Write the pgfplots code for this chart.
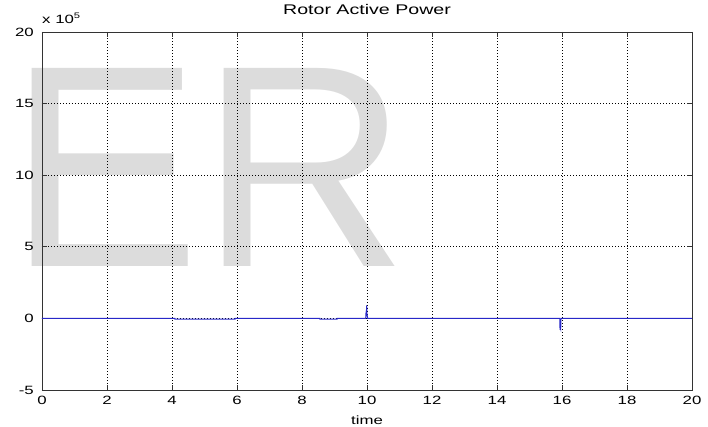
\documentclass[border=0pt]{standalone}
\usepackage{fontspec}
\setmainfont{Liberation Sans}
\newfontfamily\mlfont[FakeStretch=1.4]{Liberation Sans}
\newfontfamily\wmfont{Liberation Sans}
\usepackage{pgfplots}
\pgfplotsset{compat=1.18}
\definecolor{wm}{RGB}{220,220,220}
\definecolor{mlblue}{RGB}{40,40,200}
\begin{document}
\begin{tikzpicture}
\node[anchor=base west, inner sep=0pt, text=wm, font=\wmfont\fontsize{288}{288}\selectfont] at (-34pt,123pt) {ER};
\begin{axis}[
  at={(0pt,0pt)}, anchor=south west,
  scale only axis, width=650pt, height=358pt,
  xmin=0, xmax=20, ymin=-5, ymax=20,
  xtick={0,2,...,20}, ytick={-5,0,5,10,15,20},
  tick align=inside, xtick pos=both, ytick pos=both,
  major tick length=5pt,
  grid=major,
  major grid style={black, line width=0.7pt, dash pattern=on 0.7pt off 2.3pt},
  axis line style={black!80, line width=0.8pt},
  tick style={black!80, line width=0.8pt},
  /pgf/number format/assume math mode=true,
  tick label style={font=\mlfont\fontsize{12}{14}\selectfont},
  xticklabel style={anchor=center, inner sep=0pt, yshift=-10pt},
  yticklabel style={anchor=east, inner sep=0pt, xshift=-8pt},
  xlabel={time},
  xlabel style={at={(axis description cs:0.5,0)}, anchor=center, inner sep=0pt, yshift=-30pt, font=\mlfont\fontsize{12}{14}\selectfont},
  title={Rotor Active Power},
  title style={at={(axis description cs:0.5,1)}, anchor=center, inner sep=0pt, yshift=16pt, font=\mlfont\fontsize{14}{16}\selectfont},
]
\addplot[mlblue, line width=1pt] coordinates {
(0,0) (4.09,0) (4.09,-0.05) (5.94,-0.05) (5.94,0) (8.55,0) (8.55,-0.05) (9.08,-0.05) (9.08,0)
(9.96,0) (9.97,0.4) (9.98,0.38) (9.99,0.9) (10.0,0.3) (10.02,0)
(15.93,0) (15.94,-0.8) (15.95,-0.6) (15.96,-0.7) (15.97,0) (20,0)
};
\end{axis}
\node[anchor=base west, inner sep=0pt, font=\mlfont\fontsize{12}{14}\selectfont] at (0pt,366pt) {x 10\raisebox{5pt}{\fontsize{8}{9}\selectfont 5}};
\pgfresetboundingbox
\path[use as bounding box] (-42pt,-37pt) rectangle (666pt,390pt);
\end{tikzpicture}
\end{document}
